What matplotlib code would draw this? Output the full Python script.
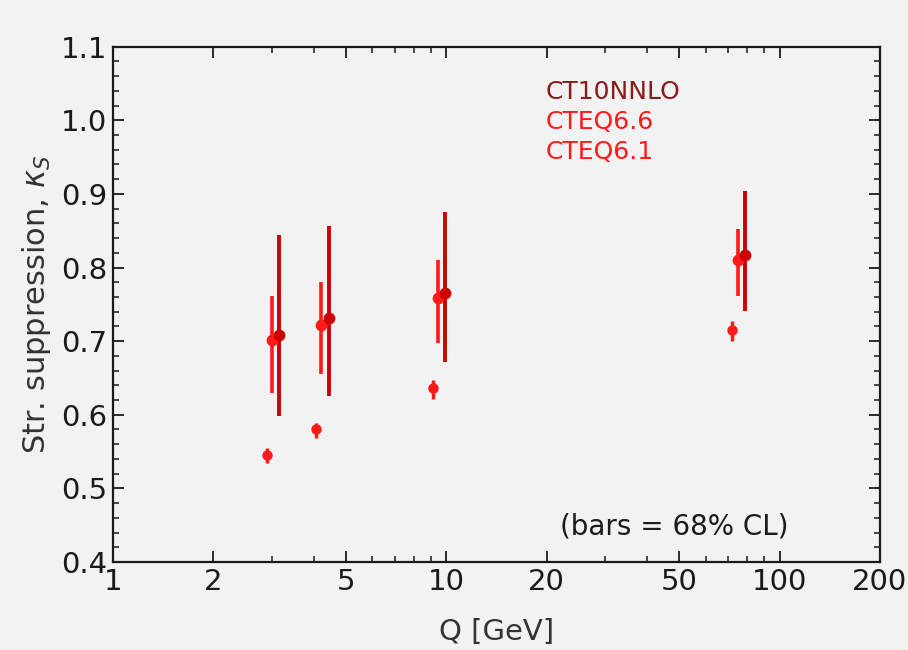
import matplotlib
matplotlib.use("Agg")
import matplotlib.pyplot as plt
from matplotlib.ticker import FixedLocator, NullFormatter, MultipleLocator

plt.rcParams['font.family'] = ['DejaVu Sans']
plt.rcParams['mathtext.fontset'] = 'dejavusans'

# CT10NNLO
q_ct10 = [3.15, 4.45, 9.91, 78.7]
k_ct10 = [0.709, 0.731, 0.765, 0.817]
lo_ct10 = [0.598, 0.626, 0.672, 0.741]
hi_ct10 = [0.844, 0.856, 0.875, 0.904]

# CTEQ6.6
q_66 = [2.99, 4.21, 9.44, 75.0]
k_66 = [0.702, 0.722, 0.758, 0.810]
lo_66 = [0.630, 0.656, 0.698, 0.761]
hi_66 = [0.762, 0.780, 0.810, 0.852]

# CTEQ6.1
q_61 = [2.89, 4.06, 9.12, 71.9]
k_61 = [0.546, 0.580, 0.636, 0.715]
lo_61 = [0.535, 0.568, 0.621, 0.700]
hi_61 = [0.555, 0.589, 0.647, 0.727]

xticks = [1, 2, 5, 10, 20, 50, 100, 200]
xtick_labels = ['1', '2', '5', '10', '20', '50', '100', '200']
yticks = [0.4, 0.5, 0.6, 0.7, 0.8, 0.9, 1.0, 1.1]
ytick_labels = ['0.4', '0.5', '0.6', '0.7', '0.8', '0.9', '1.0', '1.1']

bg = '#f2f2f2'
c_ct10 = '#cc0000'
c_66 = '#ff1a1a'
c_61 = '#ff1a1a'
ink = '#1a1a1a'

fig = plt.figure(figsize=(9.08, 6.5), dpi=100, facecolor=bg)
ax = fig.add_axes([113/908, 1-562/650, (880-113)/908, (562-46.7)/650])
ax.set_facecolor(bg)

def draw(q, k, lo, hi, color, lw, ms):
    yerr = [[v - l for v, l in zip(k, lo)], [h - v for v, h in zip(k, hi)]]
    ax.errorbar(q, k, yerr=yerr, fmt='o', color=color, ecolor=color,
                elinewidth=lw, capsize=0, markersize=ms, markeredgewidth=0)

draw(q_61, k_61, lo_61, hi_61, c_61, 2.5, 7.5)
draw(q_66, k_66, lo_66, hi_66, c_66, 2.6, 8.5)
draw(q_ct10, k_ct10, lo_ct10, hi_ct10, c_ct10, 2.8, 8.5)

ax.set_xscale('log')
ax.set_xlim(1, 200)
ax.set_ylim(0.4, 1.1)
ax.xaxis.set_major_locator(FixedLocator(xticks))
ax.set_xticklabels(xtick_labels)
minor_x = [m * d for d in [1, 10, 100] for m in range(2, 10) if m * d < 200 and m * d not in xticks]
ax.xaxis.set_minor_locator(FixedLocator(minor_x))
ax.xaxis.set_minor_formatter(NullFormatter())
ax.set_yticks(yticks)
ax.set_yticklabels(ytick_labels)
ax.yaxis.set_minor_locator(MultipleLocator(0.02))

ax.tick_params(which='both', direction='in', top=True, right=True, labelsize=21, pad=4,
               color=ink, labelcolor=ink)
ax.tick_params(which='major', length=8, width=1.3)
ax.tick_params(which='minor', length=4.5, width=1.1)
for s in ax.spines.values():
    s.set_linewidth(1.6)
    s.set_color(ink)

ax.set_xlabel('Q [GeV]', fontsize=21, labelpad=16, color='#333333')
ax.set_ylabel(r'Str. suppression, $\kappa_S$', fontsize=22, labelpad=6, color='#333333')

fig.text(546/908, 1-92/650, 'CT10NNLO', fontsize=18, color='#8b1a1a', va='center', ha='left')
fig.text(546/908, 1-122/650, 'CTEQ6.6', fontsize=18, color='#ff1a1a', va='center', ha='left')
fig.text(546/908, 1-152/650, 'CTEQ6.1', fontsize=18, color='#ff1a1a', va='center', ha='left')

fig.text(674/908, 1-527/650, '(bars = 68% CL)', fontsize=20, color=ink, ha='center', va='center')

fig.savefig('out.png', dpi=100, facecolor=bg)
